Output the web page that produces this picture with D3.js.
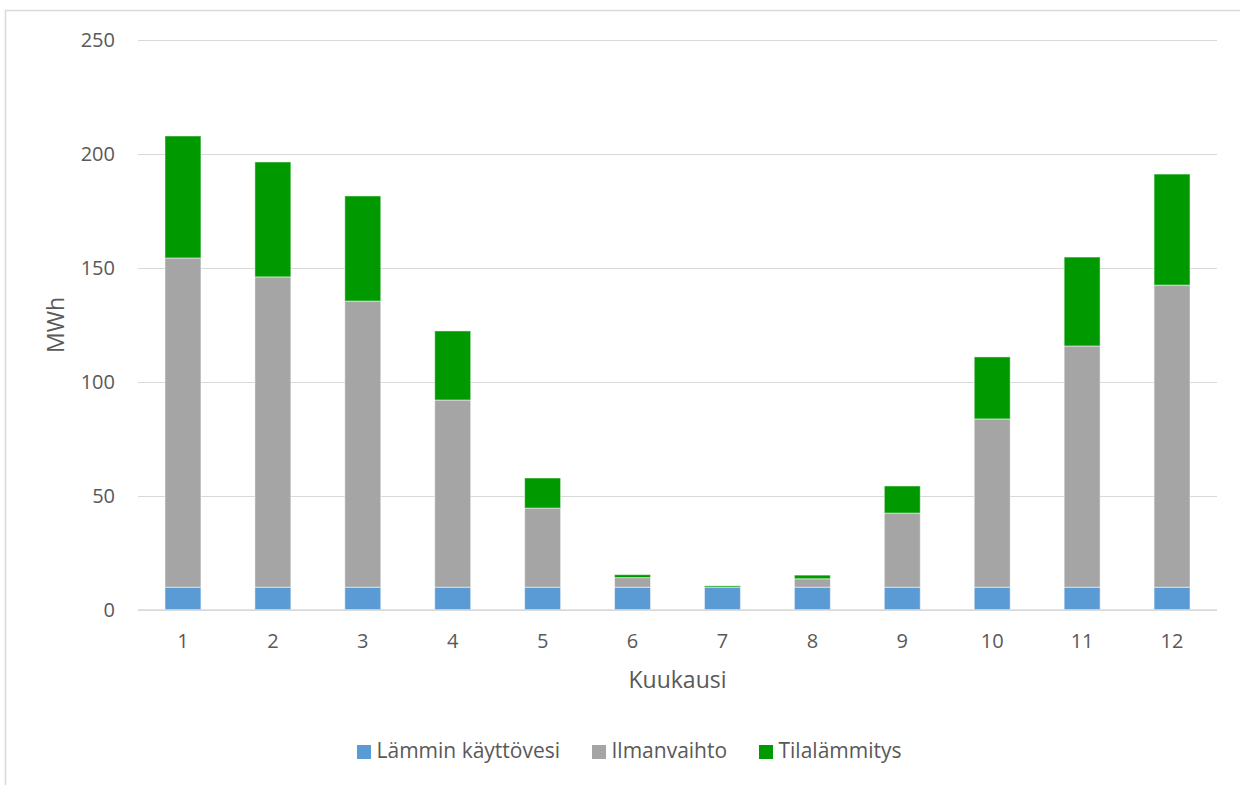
<!DOCTYPE html>
<html><head><meta charset="utf-8">
<script src="https://cdn.jsdelivr.net/npm/d3@7"></script>
<style>body{margin:0;background:#fff;}svg{display:block;font-family:"Open Sans",sans-serif;}</style>
</head><body>
<svg id="c" width="1240" height="785"></svg>
<script>
const months = ["1","2","3","4","5","6","7","8","9","10","11","12"];
const seriesNames = ["Lämmin käyttövesi","Ilmanvaihto","Tilalämmitys"];
const lamminKayttovesi = [10,10,10,10,10,10,10,10,10,10,10,10];
const ilmanvaihto = [144.4,136.1,125.5,82.1,34.7,4.2,0,3.7,32.5,73.8,105.8,132.5];
const tilalammitys = [53.5,50.4,46.1,30.3,13.2,1.3,0.6,1.6,11.9,27.2,39.0,48.7];
const yTicks = [0,50,100,150,200,250];
const colors = ["#5B9BD5","#A5A5A5","#009900"];

(function(){
const svg = d3.select("#c");
const pL = 138, pR = 1217, pT = 40, pB = 610;
const textColor = "#595959";

// chart border
svg.append("path").attr("d","M5.5,785V10.5H1240").attr("fill","none").attr("stroke","#d9d9d9").attr("stroke-width",1.5);

const x = d3.scaleBand().domain(months).range([pL,pR]).paddingInner(0.6).paddingOuter(0.3);
const y = d3.scaleLinear().domain([0,250]).range([pB,pT]);

// gridlines
const yAxis = d3.axisLeft(y).tickValues(yTicks).tickSize(-(pR-pL)).tickPadding(23);
const gy = svg.append("g").attr("transform",`translate(${pL},0)`).call(yAxis);
gy.select(".domain").remove();
gy.selectAll(".tick line").attr("stroke","#d9d9d9").attr("stroke-width",1.2);
gy.selectAll(".tick text").attr("fill",textColor).style("font-size","20px").style("font-family","'Open Sans',sans-serif");

const data = months.map((m,i)=>({month:m,"Lämmin käyttövesi":lamminKayttovesi[i],"Ilmanvaihto":ilmanvaihto[i],"Tilalämmitys":tilalammitys[i]}));
const stack = d3.stack().keys(seriesNames)(data);

svg.append("g").selectAll("g").data(stack).join("g")
  .attr("fill",(d,i)=>colors[i])
  .selectAll("rect").data(d=>d).join("rect")
  .attr("x",d=>x(d.data.month))
  .attr("width",x.bandwidth())
  .attr("y",d=>y(d[1]))
  .attr("height",d=>Math.max(0,y(d[0])-y(d[1])))
  .attr("stroke","#ffffff").attr("stroke-opacity",0.5).attr("stroke-width",1);

// x axis baseline
svg.append("line").attr("x1",pL).attr("x2",pR).attr("y1",y(0)).attr("y2",y(0)).attr("stroke","#d9d9d9").attr("stroke-width",1.5);
const xAxis = d3.axisBottom(x).tickSize(0).tickPadding(24);
const gx = svg.append("g").attr("transform",`translate(0,${pB})`).call(xAxis);
gx.select(".domain").remove();
gx.selectAll(".tick text").attr("fill",textColor).style("font-size","20px").style("font-family","'Open Sans',sans-serif");

// axis titles
svg.append("text").attr("x",(pL+pR)/2).attr("y",688).attr("text-anchor","middle")
  .attr("fill",textColor).style("font-size","23px").text("Kuukausi");
svg.append("text").attr("transform",`translate(64,${(pT+pB)/2}) rotate(-90)`).attr("text-anchor","middle")
  .attr("fill",textColor).style("font-size","23px").text("MWh");

// legend
const legX = [357,592,759];
const leg = svg.append("g").selectAll("g").data(seriesNames).join("g")
  .attr("transform",(d,i)=>`translate(${legX[i]},752)`);
leg.append("rect").attr("x",0).attr("y",-7).attr("width",14).attr("height",14).attr("fill",(d,i)=>colors[i]);
leg.append("text").attr("x",19.5).attr("y",5.5).attr("fill",textColor).style("font-size","21px").text(d=>d);
})();
</script>
</body></html>
